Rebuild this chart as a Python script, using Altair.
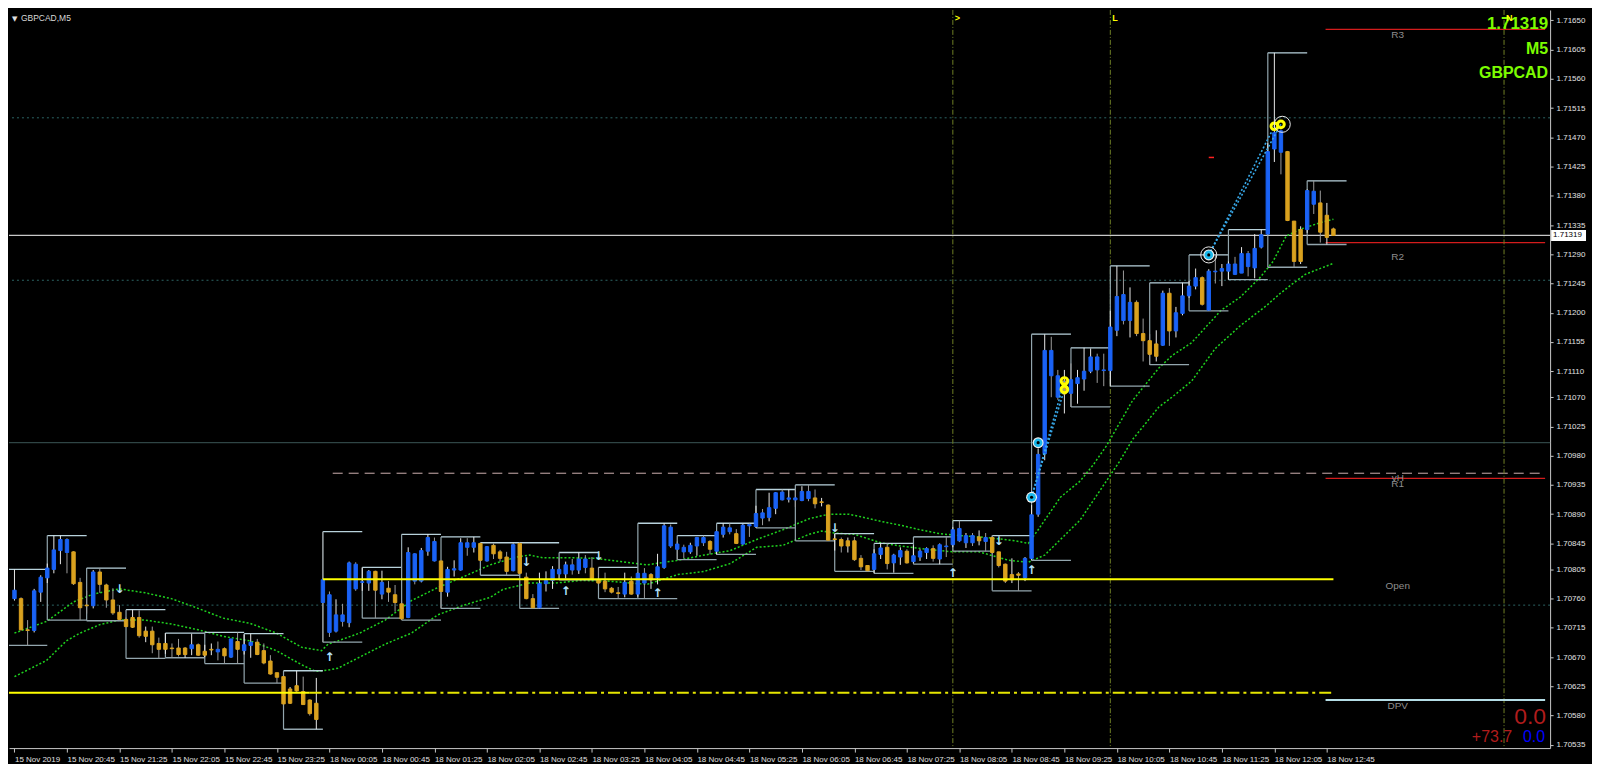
import altair as alt
import pandas as pd

W, H = 1545, 740
XD = [-0.075, 233.26]
YD = [1.70530, 1.71666]

# ---------------- candle data (GBPCAD M5), bar 0 = 15 Nov 20:05 ----------------
OPEN = [1.70760,1.70760,1.70712,1.70711,1.70770,1.70792,1.70805,1.70834,1.70851,1.70832,
        1.70785,1.70750,1.70749,1.70801,1.70781,1.70758,1.70739,1.70728,1.70716,1.70731,
        1.70702,1.70710,1.70691,1.70682,1.70684,1.70684,1.70674,1.70683,1.70689,1.70673,
        1.70681,1.70682,1.70683,1.70670,1.70694,1.70680,1.70688,1.70693,1.70680,1.70664,
        1.70646,1.70640,1.70599,1.70618,1.70617,1.70604,1.70574,1.70789,1.70766,1.70710,
        1.70735,1.70723,1.70813,1.70785,1.70784,1.70802,1.70767,1.70776,1.70766,1.70752,
        1.70731,1.70829,1.70787,1.70833,1.70848,1.70818,1.70770,1.70804,1.70804,1.70846,
        1.70839,1.70845,1.70818,1.70842,1.70832,1.70824,1.70803,1.70845,1.70793,1.70760,
        1.70746,1.70783,1.70788,1.70805,1.70798,1.70812,1.70804,1.70821,1.70807,1.70789,
        1.70787,1.70776,1.70769,1.70767,1.70787,1.70767,1.70799,1.70789,1.70792,1.70808,
        1.70870,1.70844,1.70839,1.70832,1.70841,1.70854,1.70848,1.70833,1.70859,1.70869,
        1.70860,1.70844,1.70874,1.70871,1.70892,1.70885,1.70899,1.70924,1.70913,1.70915,
        1.70911,1.70925,1.70915,1.70908,1.70904,1.70851,1.70851,1.70841,1.70849,1.70822,
        1.70811,1.70805,1.70828,1.70839,1.70815,1.70824,1.70833,1.70817,1.70824,1.70831,
        1.70837,1.70821,1.70841,1.70843,1.70868,1.70846,1.70857,1.70849,1.70854,1.70854,
        1.70832,1.70813,1.70789,1.70798,1.70792,1.70822,1.70890,1.70983,1.71142,1.71103,
        1.71075,1.71097,1.71091,1.71098,1.71110,1.71132,1.71112,1.71111,1.71173,1.71228,
        1.71188,1.71216,1.71168,1.71157,1.71133,1.71150,1.71230,1.71172,1.71199,1.71226,
        1.71241,1.71254,1.71204,1.71264,1.71264,1.71264,1.71275,1.71261,1.71291,1.71269,
        1.71301,1.71321,1.71452,1.71480,1.71448,1.71341,1.71279,1.71328,1.71387,1.71369,
        1.71316,1.71329]
HIGH = [1.70805,1.70762,1.70727,1.70775,1.70796,1.70814,1.70857,1.70857,1.70853,1.70833,
        1.70792,1.70772,1.70804,1.70807,1.70783,1.70776,1.70750,1.70731,1.70743,1.70742,
        1.70717,1.70717,1.70700,1.70707,1.70691,1.70698,1.70685,1.70706,1.70691,1.70689,
        1.70691,1.70694,1.70685,1.70698,1.70708,1.70705,1.70706,1.70698,1.70691,1.70673,
        1.70646,1.70641,1.70624,1.70649,1.70640,1.70605,1.70638,1.70863,1.70771,1.70759,
        1.70752,1.70817,1.70816,1.70808,1.70804,1.70803,1.70803,1.70787,1.70781,1.70757,
        1.70839,1.70830,1.70838,1.70859,1.70854,1.70818,1.70809,1.70819,1.70853,1.70853,
        1.70855,1.70846,1.70841,1.70845,1.70835,1.70832,1.70845,1.70846,1.70800,1.70767,
        1.70800,1.70802,1.70810,1.70823,1.70817,1.70821,1.70831,1.70827,1.70824,1.70808,
        1.70800,1.70778,1.70778,1.70800,1.70794,1.70800,1.70807,1.70799,1.70829,1.70876,
        1.70874,1.70848,1.70843,1.70846,1.70855,1.70857,1.70850,1.70863,1.70876,1.70876,
        1.70867,1.70875,1.70876,1.70903,1.70898,1.70923,1.70924,1.70928,1.70928,1.70928,
        1.70933,1.70935,1.70928,1.70915,1.70905,1.70860,1.70854,1.70854,1.70855,1.70827,
        1.70811,1.70836,1.70845,1.70845,1.70829,1.70839,1.70836,1.70842,1.70836,1.70839,
        1.70842,1.70845,1.70855,1.70870,1.70880,1.70861,1.70861,1.70865,1.70861,1.70857,
        1.70832,1.70814,1.70822,1.70801,1.70824,1.70904,1.70991,1.71167,1.71163,1.71112,
        1.71112,1.71122,1.71112,1.71146,1.71145,1.71137,1.71137,1.71203,1.71272,1.71265,
        1.71239,1.71219,1.71191,1.71167,1.71173,1.71234,1.71238,1.71209,1.71246,1.71249,
        1.71268,1.71256,1.71267,1.71289,1.71275,1.71279,1.71286,1.71301,1.71295,1.71321,
        1.71328,1.71461,1.71600,1.71482,1.71449,1.71341,1.71333,1.71390,1.71403,1.71388,
        1.71369,1.71331]
LOW = [1.70757,1.70711,1.70688,1.70708,1.70755,1.70784,1.70799,1.70813,1.70799,1.70781,
       1.70727,1.70737,1.70745,1.70769,1.70746,1.70735,1.70726,1.70716,1.70715,1.70700,
       1.70693,1.70676,1.70668,1.70675,1.70669,1.70671,1.70669,1.70673,1.70672,1.70670,
       1.70673,1.70665,1.70660,1.70669,1.70660,1.70674,1.70669,1.70673,1.70659,1.70643,
       1.70630,1.70597,1.70598,1.70617,1.70597,1.70580,1.70559,1.70693,1.70701,1.70708,
       1.70717,1.70716,1.70772,1.70772,1.70772,1.70730,1.70759,1.70755,1.70740,1.70727,
       1.70730,1.70782,1.70785,1.70826,1.70817,1.70745,1.70763,1.70794,1.70803,1.70826,
       1.70831,1.70817,1.70817,1.70821,1.70817,1.70796,1.70802,1.70796,1.70759,1.70745,
       1.70745,1.70771,1.70775,1.70789,1.70791,1.70797,1.70798,1.70799,1.70790,1.70782,
       1.70770,1.70768,1.70760,1.70762,1.70766,1.70763,1.70760,1.70775,1.70782,1.70806,
       1.70838,1.70820,1.70822,1.70829,1.70826,1.70841,1.70828,1.70828,1.70854,1.70859,
       1.70844,1.70843,1.70855,1.70869,1.70873,1.70879,1.70890,1.70911,1.70908,1.70901,
       1.70910,1.70910,1.70899,1.70902,1.70849,1.70834,1.70831,1.70831,1.70818,1.70804,
       1.70802,1.70799,1.70821,1.70805,1.70800,1.70812,1.70814,1.70815,1.70818,1.70821,
       1.70817,1.70813,1.70824,1.70839,1.70847,1.70838,1.70841,1.70842,1.70833,1.70829,
       1.70808,1.70784,1.70784,1.70772,1.70787,1.70819,1.70886,1.70973,1.71070,1.71066,
       1.71045,1.71055,1.71060,1.71080,1.71107,1.71092,1.71087,1.71087,1.71164,1.71182,
       1.71162,1.71164,1.71125,1.71120,1.71125,1.71149,1.71149,1.71162,1.71196,1.71223,
       1.71236,1.71211,1.71203,1.71245,1.71241,1.71251,1.71258,1.71261,1.71256,1.71253,
       1.71299,1.71320,1.71432,1.71413,1.71341,1.71270,1.71275,1.71323,1.71352,1.71308,
       1.71305,1.71319]
CLOSE = [1.70773,1.70712,1.70711,1.70772,1.70793,1.70807,1.70835,1.70851,1.70831,1.70783,
         1.70746,1.70749,1.70801,1.70782,1.70758,1.70738,1.70728,1.70717,1.70731,1.70703,
         1.70710,1.70689,1.70682,1.70691,1.70683,1.70674,1.70684,1.70689,1.70673,1.70679,
         1.70682,1.70678,1.70672,1.70698,1.70682,1.70689,1.70693,1.70674,1.70661,1.70644,
         1.70639,1.70598,1.70621,1.70626,1.70597,1.70583,1.70599,1.70754,1.70708,1.70735,
         1.70725,1.70815,1.70775,1.70786,1.70802,1.70773,1.70785,1.70770,1.70754,1.70729,
         1.70831,1.70787,1.70834,1.70854,1.70818,1.70771,1.70805,1.70806,1.70846,1.70839,
         1.70846,1.70819,1.70840,1.70829,1.70822,1.70802,1.70843,1.70799,1.70760,1.70746,
         1.70783,1.70788,1.70805,1.70798,1.70812,1.70804,1.70821,1.70808,1.70791,1.70784,
         1.70775,1.70770,1.70768,1.70785,1.70767,1.70799,1.70784,1.70797,1.70809,1.70872,
         1.70841,1.70836,1.70832,1.70842,1.70854,1.70846,1.70836,1.70863,1.70870,1.70863,
         1.70845,1.70873,1.70872,1.70891,1.70884,1.70900,1.70923,1.70912,1.70915,1.70912,
         1.70925,1.70914,1.70906,1.70909,1.70850,1.70852,1.70841,1.70849,1.70820,1.70809,
         1.70803,1.70829,1.70838,1.70814,1.70827,1.70834,1.70815,1.70826,1.70833,1.70837,
         1.70822,1.70843,1.70840,1.70866,1.70849,1.70857,1.70846,1.70855,1.70848,1.70831,
         1.70811,1.70787,1.70797,1.70796,1.70822,1.70889,1.70982,1.71142,1.71103,1.71070,
         1.71095,1.71076,1.71100,1.71110,1.71132,1.71112,1.71111,1.71178,1.71225,1.71188,
         1.71216,1.71168,1.71157,1.71136,1.71152,1.71230,1.71172,1.71200,1.71226,1.71241,
         1.71254,1.71213,1.71264,1.71263,1.71268,1.71275,1.71259,1.71291,1.71271,1.71299,
         1.71320,1.71448,1.71477,1.71447,1.71342,1.71279,1.71328,1.71388,1.71367,1.71324,
         1.71350,1.71319]
BODY = list("boobbbbbbo" "oobooooooo" "oooooooboo" "obobobbooo" "ooooooobbb"
            "bbbbbobooo" "bbbbbobbbb" "bobooobooo" "bbbbbbbboo" "ooobobbobb"
            "bbbbbbobbb" "obbbbbbbbb" "bboooooooo" "obbobbobbb" "obbbbbbobo"
            "oooobbbbbb" "obbbbbbbbb" "boooobobbb" "bobbbbbbbb" "bbbbooobbo" "oo")

# ---------------- indicator lines ----------------
MA1_BAR = [0, 4.9, 9.0, 12.0, 16.0, 19.9, 23.9, 28.0, 31.8, 35.9, 39.9, 43.8, 46.8, 47.8, 49.3,
           52.6, 56.5, 60.5, 64.5, 68.5, 72.5, 76.5, 78.5, 80.5, 84.5, 88.4, 92.4, 96.4, 101.1,
           105.1, 109.1, 113.1, 117.1, 121.1, 124.1, 127.1, 129.0, 132.0, 135.0, 138.0, 141.0,
           144.0, 147.0, 150.0, 152.5, 154.5, 156.0, 159.4, 162.4, 164.4, 166.4, 168.4, 170.4,
           172.4, 174.4, 176.4, 179.4, 183.9, 186.8, 189.8, 191.8, 193.8, 195.8, 198.8, 201.0]
MA1_PRICE = [1.70707, 1.70725, 1.70755, 1.70767, 1.70775, 1.70769, 1.70760, 1.70745, 1.70730,
             1.70722, 1.70707, 1.70685, 1.70680, 1.70690, 1.70695, 1.70707, 1.70727, 1.70757,
             1.70777, 1.70794, 1.70812, 1.70824, 1.70827, 1.70823, 1.70823, 1.70822, 1.70817,
             1.70812, 1.70819, 1.70827, 1.70834, 1.70851, 1.70866, 1.70883, 1.70890, 1.70890,
             1.70886, 1.70879, 1.70873, 1.70866, 1.70860, 1.70857, 1.70855, 1.70852, 1.70849,
             1.70845, 1.70866, 1.70916, 1.70941, 1.70966, 1.70995, 1.71030, 1.71065, 1.71090,
             1.71115, 1.71134, 1.71154, 1.71204, 1.71224, 1.71254, 1.71279, 1.71318, 1.71328,
             1.71338, 1.71344]
MA2_BAR = [0, 4.9, 7.9, 10.0, 13.0, 16.0, 19.9, 23.9, 28.0, 31.8, 35.9, 39.9, 43.8, 45.9, 47.8,
           49.3, 52.6, 56.5, 60.5, 64.5, 68.5, 72.5, 74.4, 78.4, 82.4, 86.4, 90.4, 96.4, 101.1,
           105.1, 109.1, 113.1, 117.1, 121.1, 123.0, 125.0, 128.0, 132.0, 135.0, 139.0, 143.0,
           147.0, 151.5, 154.5, 157.0, 159.4, 162.4, 164.4, 166.4, 168.4, 170.4, 172.4, 174.4,
           176.4, 179.4, 183.0, 186.8, 190.8, 192.8, 194.7, 196.7, 198.7, 201.0]
MA2_PRICE = [1.70640, 1.70665, 1.70695, 1.70707, 1.70720, 1.70727, 1.70727, 1.70721, 1.70712,
             1.70702, 1.70695, 1.70680, 1.70658, 1.70648, 1.70650, 1.70653, 1.70670, 1.70690,
             1.70707, 1.70735, 1.70750, 1.70762, 1.70774, 1.70784, 1.70784, 1.70788, 1.70787,
             1.70782, 1.70797, 1.70802, 1.70814, 1.70839, 1.70842, 1.70859, 1.70864, 1.70861,
             1.70859, 1.70846, 1.70841, 1.70836, 1.70832, 1.70832, 1.70819, 1.70816, 1.70827,
             1.70851, 1.70881, 1.70911, 1.70941, 1.70971, 1.71005, 1.71030, 1.71055, 1.71070,
             1.71095, 1.71145, 1.71180, 1.71211, 1.71229, 1.71244, 1.71259, 1.71267, 1.71276]

# ---------------- horizontal levels ----------------
QUARTER_LEVELS = [1.71500, 1.71250, 1.70750]
ROUND_LEVELS = [1.71000]
BID = 1.71319
VH_LEVEL, VH_START = 1.70953, 48.5
PIVOT_NAMES = ["R3", "R2", "R1"]
PIVOT_LEVELS = [1.71636, 1.71308, 1.70945]
PIVOT_START = 199.8
OPEN_LEVEL, OPEN_START, OPEN_END = 1.70790, 47, 201
PREV_LEVEL, PREV_SOLID_END, PREV_END = 1.70615, 45, 201
DPV_LEVEL, DPV_START = 1.70604, 199.8
LABEL_TEXT = ["R3", "R2", "vH", "R1", "Open", "DPV"]
LABEL_PRICE = [1.71627, 1.71286, 1.70946, 1.70936, 1.70779, 1.70594]
LABEL_BAR = 210.8

# ---------------- vertical lines ----------------
VLINE_BAR = [143, 167, 227]
VLINE_TAG = [">", "L", "N"]

# ---------------- signals ----------------
CYAN_BAR = [155, 156, 182]
CYAN_PRICE = [1.70916, 1.71000, 1.71289]
RING_BAR = [182, 193.2]
RING_PRICE = [1.71289, 1.71490]
YELLOW_BAR = [160, 160, 192, 193]
YELLOW_PRICE = [1.71082, 1.71095, 1.71487, 1.71490]
LINK_ID = [0, 0, 1, 1, 2, 2, 3, 3]
LINK_BAR = [155, 160, 155, 160, 182, 192, 182, 193]
LINK_PRICE = [1.70916, 1.71082, 1.70916, 1.71095, 1.71289, 1.71487, 1.71289, 1.71490]
ARROW_BAR = [16, 48, 78, 84, 89, 98, 125, 143, 150, 155]
ARROW_PRICE = [1.70775, 1.70670, 1.70817, 1.70772, 1.70826, 1.70768, 1.70869, 1.70799, 1.70849, 1.70804]
ARROW_DIR = ["d", "u", "d", "u", "d", "u", "d", "u", "d", "u"]
RED_MARK_BAR = [182]
RED_MARK_PRICE = [1.71439]

XLABELS = ["15 Nov 2019", "15 Nov 20:45", "15 Nov 21:25", "15 Nov 22:05", "15 Nov 22:45",
           "15 Nov 23:25", "18 Nov 00:05", "18 Nov 00:45", "18 Nov 01:25", "18 Nov 02:05",
           "18 Nov 02:45", "18 Nov 03:25", "18 Nov 04:05", "18 Nov 04:45", "18 Nov 05:25",
           "18 Nov 06:05", "18 Nov 06:45", "18 Nov 07:25", "18 Nov 08:05", "18 Nov 08:45",
           "18 Nov 09:25", "18 Nov 10:05", "18 Nov 10:45", "18 Nov 11:25", "18 Nov 12:05",
           "18 Nov 12:45"]
XTICKS = [8 * k for k in range(len(XLABELS))]
YTICKS = [1.71650, 1.71605, 1.71560, 1.71515, 1.71470, 1.71425, 1.71380, 1.71335, 1.71290,
          1.71245, 1.71200, 1.71155, 1.71110, 1.71070, 1.71025, 1.70980, 1.70935, 1.70890,
          1.70845, 1.70805, 1.70760, 1.70715, 1.70670, 1.70625, 1.70580, 1.70535]

# ---------------- styles ----------------
BLUE, ORANGE = "#1a62f5", "#daa21f"
WICK_UP, WICK_DN = "#e8e8e8", "#9c9c9c"
LIME = "#7cfc00"
FONT = "Liberation Sans"
AXC = "#c8c8c8"

xs = alt.Scale(domain=XD, nice=False, zero=False)
ys = alt.Scale(domain=YD, nice=False, zero=False)

label_expr = "[" + ",".join("'" + s + "'" for s in XLABELS) + "][round(datum.value / 8)]"
XAXIS = alt.Axis(values=XTICKS, labelExpr=label_expr, orient="bottom", labelAlign="left",
                 labelColor="#e0e0e0", labelFont=FONT, labelFontSize=8, labelPadding=3,
                 tickColor=AXC, tickSize=4, domainColor=AXC, grid=False,
                 labelOverlap=False, labelFlush=False, title=None)
YAXIS = alt.Axis(values=YTICKS, format=".5f", orient="right", labelColor="#e0e0e0",
                 labelFont=FONT, labelFontSize=8, labelPadding=3, tickColor=AXC, tickSize=3,
                 domainColor=AXC, grid=False, labelOverlap=False, labelFlush=False, title=None)


def xq(f):
    return alt.X(f"{f}:Q", scale=xs, axis=XAXIS, title=None)


def yq(f):
    return alt.Y(f"{f}:Q", scale=ys, axis=YAXIS, title=None)


candles = pd.DataFrame({"i": list(range(len(OPEN))), "o": OPEN, "h": HIGH,
                        "l": LOW, "c": CLOSE, "body": BODY})
candles["dir"] = ["up" if c >= o else "dn" for o, c in zip(OPEN, CLOSE)]

layers = []

# horizontal reference lines
layers.append(alt.Chart(pd.DataFrame({"p": QUARTER_LEVELS})).mark_rule(
    color="#2c6464", strokeDash=[2, 3], strokeWidth=1).encode(y=yq("p")))
layers.append(alt.Chart(pd.DataFrame({"p": ROUND_LEVELS})).mark_rule(
    color="#3a5656", strokeWidth=1).encode(y=yq("p")))
layers.append(alt.Chart(pd.DataFrame({"p": [VH_LEVEL], "s": [VH_START], "e": [XD[1]]})).mark_rule(
    color="#cfb0b0", strokeDash=[10, 6], strokeWidth=1, clip=True).encode(
    x=xq("s"), x2=alt.X2("e"), y=yq("p")))
layers.append(alt.Chart(pd.DataFrame({"p": PIVOT_LEVELS, "s": [PIVOT_START] * 3, "e": [XD[1]] * 3})).mark_rule(
    color="#d41c1c", strokeWidth=1.2, clip=True).encode(x=xq("s"), x2=alt.X2("e"), y=yq("p")))
layers.append(alt.Chart(pd.DataFrame({"p": [BID]})).mark_rule(
    color="#c8c8c8", strokeWidth=1.2).encode(y=yq("p")))

# vertical dash-dot lines
layers.append(alt.Chart(pd.DataFrame({"b": VLINE_BAR})).mark_rule(
    color="#6f7f25", strokeDash=[5, 2, 1, 2], strokeWidth=1).encode(x=xq("b")))

# moving averages
layers.append(alt.Chart(pd.DataFrame({"b": MA1_BAR, "p": MA1_PRICE})).mark_line(
    color="#1fd21f", strokeDash=[2, 2], strokeWidth=1.5, clip=True).encode(x=xq("b"), y=yq("p")))
layers.append(alt.Chart(pd.DataFrame({"b": MA2_BAR, "p": MA2_PRICE})).mark_line(
    color="#1fd21f", strokeDash=[2, 2], strokeWidth=1.5, clip=True).encode(x=xq("b"), y=yq("p")))

# 30-minute range boxes
blocks = alt.Chart(candles).transform_calculate(
    blk="floor((datum.i - 5) / 6)").transform_aggregate(
    hi="max(h)", lo="min(l)", groupby=["blk"]).transform_calculate(
    s="datum.blk * 6 + 5", e="datum.blk * 6 + 11")
layers.append(blocks.mark_rule(color="#b8d2dc", strokeWidth=1.3, clip=True).encode(
    x=xq("s"), x2=alt.X2("e"), y=yq("hi")))
layers.append(blocks.mark_rule(color="#93a6ae", strokeWidth=1.3, clip=True).encode(
    x=xq("s"), x2=alt.X2("e"), y=yq("lo")))
layers.append(blocks.mark_rule(color="#93a6ae", strokeWidth=1.2, clip=True).encode(
    x=xq("s"), y=yq("lo"), y2=alt.Y2("hi")))

# candles
layers.append(alt.Chart(candles).mark_rule(strokeWidth=1, clip=True).encode(
    x=xq("i"), y=yq("l"), y2=alt.Y2("h"),
    color=alt.Color("dir:N", scale=alt.Scale(domain=["up", "dn"], range=[WICK_UP, WICK_DN]), legend=None)))
layers.append(alt.Chart(candles).mark_bar(width=3.4, strokeWidth=1, clip=True).encode(
    x=xq("i"), y=yq("o"), y2=alt.Y2("c"),
    fill=alt.Fill("body:N", scale=alt.Scale(domain=["b", "o"], range=[BLUE, ORANGE]), legend=None),
    stroke=alt.Stroke("body:N", scale=alt.Scale(domain=["b", "o"], range=[BLUE, ORANGE]), legend=None)))

# yellow / DPV level lines (drawn over candles)
layers.append(alt.Chart(pd.DataFrame({"p": [OPEN_LEVEL], "s": [OPEN_START], "e": [OPEN_END]})).mark_rule(
    color="#ffff00", strokeWidth=2, clip=True).encode(x=xq("s"), x2=alt.X2("e"), y=yq("p")))
layers.append(alt.Chart(pd.DataFrame({"p": [PREV_LEVEL], "s": [-1], "e": [PREV_SOLID_END]})).mark_rule(
    color="#ffff00", strokeWidth=2, clip=True).encode(x=xq("s"), x2=alt.X2("e"), y=yq("p")))
layers.append(alt.Chart(pd.DataFrame({"p": [PREV_LEVEL], "s": [PREV_SOLID_END], "e": [PREV_END]})).mark_rule(
    color="#e6e600", strokeWidth=2, strokeDash=[12, 4, 3, 4], clip=True).encode(
    x=xq("s"), x2=alt.X2("e"), y=yq("p")))
layers.append(alt.Chart(pd.DataFrame({"p": [DPV_LEVEL], "s": [DPV_START], "e": [XD[1]]})).mark_rule(
    color="#b4dde6", strokeWidth=2, clip=True).encode(x=xq("s"), x2=alt.X2("e"), y=yq("p")))

# signal connectors and markers
layers.append(alt.Chart(pd.DataFrame({"id": LINK_ID, "b": LINK_BAR, "p": LINK_PRICE})).mark_line(
    color="#38a8e8", strokeDash=[2, 2], strokeWidth=1.6).encode(
    x=xq("b"), y=yq("p"), detail="id:N"))
cyan = alt.Chart(pd.DataFrame({"b": CYAN_BAR, "p": CYAN_PRICE}))
layers.append(cyan.mark_circle(size=120, color="#f0f0f0", opacity=1).encode(x=xq("b"), y=yq("p")))
layers.append(cyan.mark_circle(size=75, color="#1ab8ea", opacity=1).encode(x=xq("b"), y=yq("p")))
layers.append(cyan.mark_circle(size=10, color="#000000", opacity=1).encode(x=xq("b"), y=yq("p")))
layers.append(alt.Chart(pd.DataFrame({"b": YELLOW_BAR, "p": YELLOW_PRICE})).mark_point(
    shape="circle", filled=False, color="#ffff00", strokeWidth=3, size=45, opacity=1).encode(
    x=xq("b"), y=yq("p")))
layers.append(alt.Chart(pd.DataFrame({"b": RING_BAR, "p": RING_PRICE})).mark_point(
    shape="circle", filled=False, color="#e8e8e8", strokeWidth=1, size=260, opacity=1).encode(
    x=xq("b"), y=yq("p")))
layers.append(alt.Chart(pd.DataFrame({"b": ARROW_BAR, "p": ARROW_PRICE, "d": ARROW_DIR})).transform_calculate(
    g="datum.d == 'u' ? '\u2191' : '\u2193'").mark_text(
    font="DejaVu Sans", fontSize=12, fontWeight="bold", color="#b4e2ff").encode(
    x=xq("b"), y=yq("p"), text="g:N"))
layers.append(alt.Chart(pd.DataFrame({"b": RED_MARK_BAR, "p": RED_MARK_PRICE})).transform_calculate(
    e="datum.b + 0.8").mark_rule(color="#ff2020", strokeWidth=1.5).encode(
    x=xq("b"), x2=alt.X2("e"), y=yq("p")))

# level labels
layers.append(alt.Chart(pd.DataFrame({"t": LABEL_TEXT, "p": LABEL_PRICE, "b": [LABEL_BAR] * len(LABEL_TEXT)})).mark_text(
    font=FONT, fontSize=10, color="#8e8e8e", align="center", baseline="middle").encode(
    x=xq("b"), y=yq("p"), text="t:N"))


# HUD texts
def hud(text, x, y, size, color, align="right", weight="bold", font=FONT, baseline="alphabetic"):
    return alt.Chart(alt.Data(values=[{"t": text}])).mark_text(
        font=font, fontSize=size, fontWeight=weight, color=color, align=align,
        baseline=baseline).encode(x=alt.value(x), y=alt.value(y), text="t:N")


layers.append(hud("1.71319", W - 2, 19, 17, LIME))
layers.append(hud("M5", W - 2, 44, 16, LIME))
layers.append(hud("GBPCAD", W - 2, 68, 16, LIME))
layers.append(hud("0.0", W - 4, 716, 23, "#b01c1c", weight="normal"))
layers.append(hud("+73.7", W - 38, 734, 16, "#b01c1c", weight="normal"))
layers.append(hud("0.0", W - 5, 734, 16, "#0000ff", weight="normal"))
layers.append(hud("GBPCAD,M5", 12, 11, 8.5, "#d8d8d8", align="left", weight="normal"))
layers.append(hud("\u25bc", 3, 11, 7, "#e0e0e0", align="left", weight="normal", font="DejaVu Sans"))

# vertical-line tags at top
layers.append(alt.Chart(pd.DataFrame({"b": VLINE_BAR, "t": VLINE_TAG})).mark_text(
    font=FONT, fontSize=9, fontWeight="bold", color="#ffff00", align="left", dx=2,
    baseline="middle").encode(x=xq("b"), y=alt.value(8), text="t:N"))

# bid price tag on the axis
tag = alt.Chart(pd.DataFrame({"p": [BID], "t": ["1.71319"]}))
layers.append(tag.mark_rule(color="#ffffff", strokeWidth=11).encode(
    x=alt.value(W + 1), x2=alt.value(W + 36), y=yq("p")))
layers.append(tag.mark_text(font=FONT, fontSize=8, color="#000000", align="left",
                            baseline="middle").encode(x=alt.value(W + 3), y=yq("p"), text="t:N"))

chart = alt.layer(*layers).resolve_scale(
    color="independent", fill="independent", stroke="independent"
).properties(
    width=W, height=H, background="#000000",
    padding={"left": 0, "top": 0, "right": 0, "bottom": 0}
).configure_view(stroke=None)

chart.save("out.html", embed_options={"renderer": "svg", "actions": False})
